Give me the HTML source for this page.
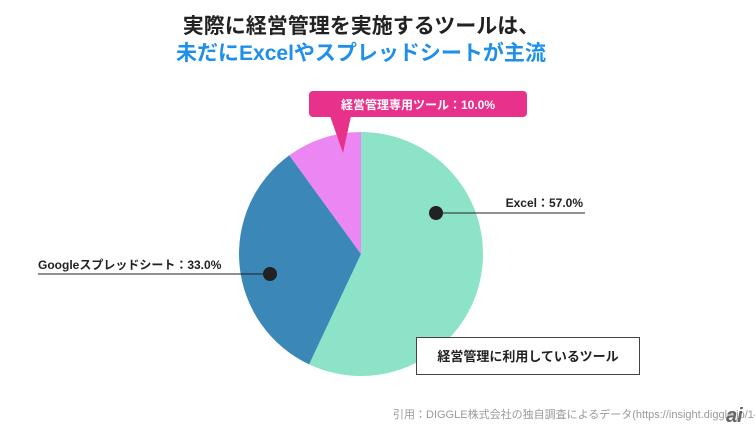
<!DOCTYPE html>
<html><head><meta charset="utf-8"><style>
body{margin:0;background:#fff;width:755px;height:430px;overflow:hidden}
</style></head><body>
<svg width="755" height="430" xmlns="http://www.w3.org/2000/svg" font-family="'Liberation Sans','Noto Sans CJK JP',sans-serif">
<text x="361" y="33" text-anchor="middle" font-size="21" font-weight="bold" fill="#222">実際に経営管理を実施するツールは、</text>
<text x="361" y="60" text-anchor="middle" font-size="21" font-weight="bold" fill="#1e8fea">未だにExcelやスプレッドシートが主流</text>
<path d="M361,254 L361,132 A122,122 0 1 1 309.1,364.4 Z" fill="#8de3c8"/>
<path d="M361,254 L309.1,364.4 A122,122 0 0 1 289.3,155.3 Z" fill="#3a87b8"/>
<path d="M361,254 L289.3,155.3 A122,122 0 0 1 361,132 Z" fill="#ec86f2"/>
<rect x="309" y="91" width="218" height="26" rx="4" fill="#e8318a"/>
<path d="M330,116 L351,116 L343,153 Z" fill="#e8318a"/>
<text x="418" y="109" text-anchor="middle" font-size="12" font-weight="bold" fill="#fff">経営管理専用ツール：10.0%</text>
<line x1="436" y1="213" x2="585" y2="213" stroke="#222" stroke-width="1"/>
<circle cx="436" cy="213" r="7" fill="#222"/>
<text x="583" y="207" text-anchor="end" font-size="12" font-weight="bold" fill="#222">Excel：57.0%</text>
<line x1="38" y1="274" x2="270" y2="274" stroke="#222" stroke-width="1"/>
<circle cx="270" cy="274" r="7" fill="#222"/>
<text x="38" y="269" font-size="12" font-weight="bold" fill="#222">Googleスプレッドシート：33.0%</text>
<rect x="416.5" y="337.5" width="223" height="37" fill="#fff" stroke="#444" stroke-width="1"/>
<text x="528" y="361" text-anchor="middle" font-size="13" font-weight="bold" fill="#222">経営管理に利用しているツール</text>
<text x="393" y="418" font-size="11" fill="#999">引用：DIGGLE株式会社の独自調査によるデータ(https://insight.diggle.jp/14</text>
<text x="726" y="422" font-size="20" font-style="italic" font-weight="bold" fill="#666">ai</text>
</svg>
</body></html>
